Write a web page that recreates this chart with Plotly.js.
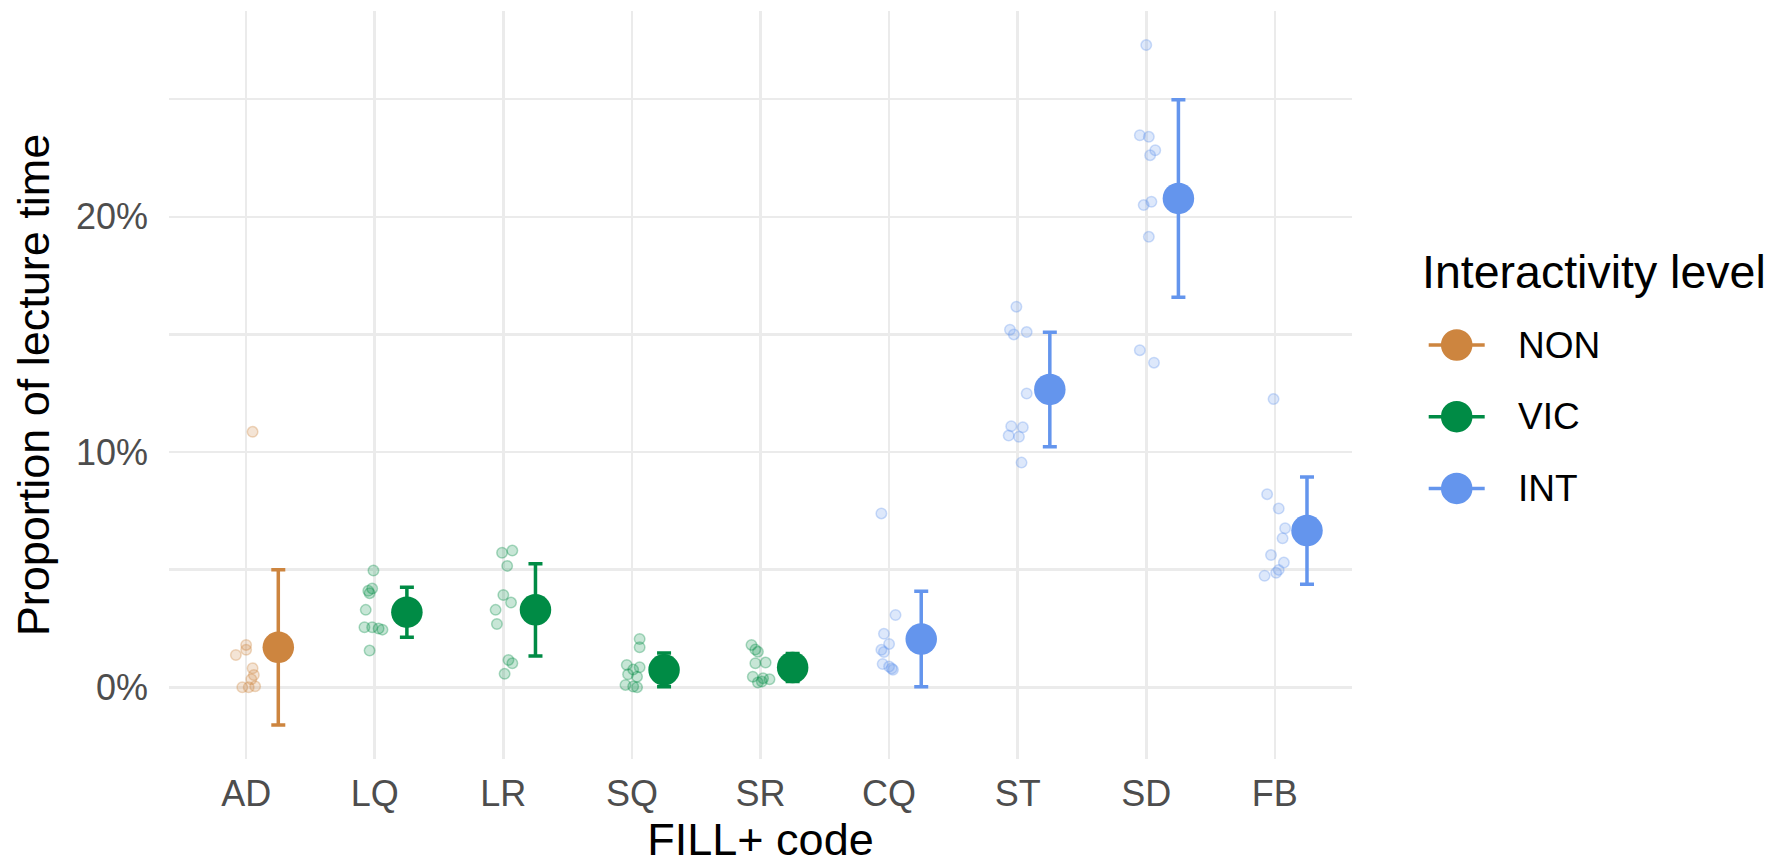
<!DOCTYPE html>
<html>
<head>
<meta charset="utf-8">
<script src="https://cdn.plot.ly/plotly-3.0.1.min.js"></script>
<style>
  html, body { margin: 0; padding: 0; background: #ffffff; }
  #chart { width: 1771px; height: 866px; }
</style>
</head>
<body>
<div id="chart"></div>
<script>
// ---------------- data ----------------
const categories = ['AD', 'LQ', 'LR', 'SQ', 'SR', 'CQ', 'ST', 'SD', 'FB'];
const categoryLevel = ['NON', 'VIC', 'VIC', 'VIC', 'VIC', 'INT', 'INT', 'INT', 'INT'];
const levels = ['NON', 'VIC', 'INT'];

// individual lecture values (% of lecture time) and their horizontal jitter (category units)
const valuesAD = [10.86, 1.80, 1.59, 1.37, 0.81, 0.52, 0.34, 0.00, 0.00, 0.04];
const jitterAD = [0.05, 0.00, 0.00, -0.08, 0.05, 0.06, 0.04, -0.03, 0.02, 0.07];
const valuesLQ = [4.96, 4.20, 4.10, 4.00, 3.29, 2.55, 2.55, 2.50, 2.45, 1.56];
const jitterLQ = [-0.01, -0.02, -0.05, -0.04, -0.07, -0.08, -0.02, 0.03, 0.06, -0.04];
const valuesLR = [5.72, 5.81, 5.16, 3.92, 3.60, 3.29, 2.69, 1.16, 1.02, 0.57];
const jitterLR = [-0.01, 0.07, 0.03, 0.00, 0.06, -0.06, -0.05, 0.04, 0.07, 0.01];
const valuesSQ = [2.05, 1.70, 0.95, 0.85, 0.75, 0.55, 0.45, 0.10, 0.03, 0.00];
const jitterSQ = [0.06, 0.06, -0.04, 0.06, 0.01, -0.03, 0.04, -0.05, 0.01, 0.04];
const valuesSR = [1.80, 1.60, 1.51, 1.05, 1.02, 0.45, 0.38, 0.34, 0.24, 0.20];
const jitterSR = [-0.07, -0.04, -0.02, 0.04, -0.04, -0.06, 0.02, 0.07, 0.01, -0.02];
const valuesCQ = [7.39, 3.07, 2.27, 1.84, 1.59, 1.50, 0.99, 0.88, 0.80, 0.74];
const jitterCQ = [-0.06, 0.05, -0.04, 0.00, -0.06, -0.04, -0.05, 0.00, 0.02, 0.03];
const valuesST = [16.18, 15.20, 15.00, 15.10, 12.49, 11.10, 11.05, 10.70, 10.65, 9.55];
const jitterST = [-0.01, -0.06, -0.03, 0.07, 0.07, -0.05, 0.04, -0.07, 0.01, 0.03];
const valuesSD = [27.30, 23.47, 23.40, 22.83, 22.62, 20.50, 20.64, 19.15, 14.33, 13.80];
const jitterSD = [0.00, -0.05, 0.02, 0.07, 0.03, -0.02, 0.04, 0.02, -0.05, 0.06];
const valuesFB = [12.25, 8.21, 7.60, 6.76, 6.33, 5.62, 5.30, 4.99, 4.87, 4.74];
const jitterFB = [-0.01, -0.06, 0.03, 0.08, 0.06, -0.03, 0.07, 0.03, 0.01, -0.08];

// summary: mean and standard deviation per category
const meanValues = [1.70, 3.19, 3.29, 0.74, 0.84, 2.05, 12.66, 20.78, 6.66];
const sdValues   = [3.30, 1.06, 1.96, 0.72, 0.60, 2.03, 2.43, 4.20, 2.28];

// ---------------- styling ----------------
const levelColor = { NON: [205, 133, 63], VIC: [0, 139, 69], INT: [100, 149, 237] };
const rgba = (c, a) => 'rgba(' + c[0] + ',' + c[1] + ',' + c[2] + ',' + a + ')';
const FONT = 'Liberation Sans, Arial, Helvetica, sans-serif';
const GRID = '#EBEBEB';
const SUMMARY_DODGE = 0.25;

const pointValues = [valuesAD, valuesLQ, valuesLR, valuesSQ, valuesSR, valuesCQ, valuesST, valuesSD, valuesFB];
const pointJitter = [jitterAD, jitterLQ, jitterLR, jitterSQ, jitterSR, jitterCQ, jitterST, jitterSD, jitterFB];

const traces = [];
levels.forEach(function (lev) {
  const px = [], py = [];
  categories.forEach(function (cat, i) {
    if (categoryLevel[i] !== lev) return;
    pointValues[i].forEach(function (v, k) {
      px.push(i + pointJitter[i][k]);
      py.push(v);
    });
  });
  traces.push({
    type: 'scatter', mode: 'markers', x: px, y: py, showlegend: false, hoverinfo: 'y',
    marker: { size: 10.5, color: rgba(levelColor[lev], 0.22), line: { width: 1.5, color: rgba(levelColor[lev], 0.32) } }
  });
});
levels.forEach(function (lev) {
  const sx = [], sy = [], se = [];
  categories.forEach(function (cat, i) {
    if (categoryLevel[i] !== lev) return;
    sx.push(i + SUMMARY_DODGE);
    sy.push(meanValues[i]);
    se.push(sdValues[i]);
  });
  traces.push({
    type: 'scatter', mode: 'markers', x: sx, y: sy, name: lev, showlegend: false,
    marker: { size: 31.5, color: rgba(levelColor[lev], 1), line: { width: 0 } },
    error_y: { type: 'data', array: se, visible: true, color: rgba(levelColor[lev], 1), thickness: 3.5, width: 7 }
  });
});

// ---------------- legend (drawn in paper space) ----------------
const W = 1771, H = 866;
const M = { l: 169, r: 419, t: 11, b: 107 };
const pw = W - M.l - M.r, ph = H - M.t - M.b;
const paperX = function (px) { return (px - M.l) / pw; };
const paperY = function (py) { return (H - M.b - py) / ph; };

const shapes = [];
const annotations = [];
annotations.push({
  xref: 'paper', yref: 'paper', x: paperX(1420), y: paperY(272), xanchor: 'left', yanchor: 'middle',
  text: 'Interactivity level', showarrow: false, font: { family: FONT, size: 46.5, color: '#000000' }
});
levels.forEach(function (lev, j) {
  const cy = paperY(345 + j * 71.7);
  const cx = paperX(1456.7);
  shapes.push({
    type: 'line', xref: 'paper', yref: 'paper', xsizemode: 'pixel', ysizemode: 'pixel',
    xanchor: cx, yanchor: cy, x0: -28, x1: 28, y0: 0, y1: 0,
    line: { color: rgba(levelColor[lev], 1), width: 3.5 }
  });
  shapes.push({
    type: 'circle', xref: 'paper', yref: 'paper', xsizemode: 'pixel', ysizemode: 'pixel',
    xanchor: cx, yanchor: cy, x0: -15.75, x1: 15.75, y0: -15.75, y1: 15.75,
    fillcolor: rgba(levelColor[lev], 1), line: { width: 0 }
  });
  annotations.push({
    xref: 'paper', yref: 'paper', x: paperX(1516), y: cy, xanchor: 'left', yanchor: 'middle',
    text: lev, showarrow: false, font: { family: FONT, size: 37, color: '#000000' }
  });
});

const layout = {
  width: W, height: H,
  margin: M,
  paper_bgcolor: '#ffffff', plot_bgcolor: '#ffffff',
  font: { family: FONT, color: '#000000' },
  showlegend: false,
  xaxis: {
    range: [-0.6, categories.length - 0.4],
    tickmode: 'array', tickvals: categories.map(function (c, i) { return i; }), ticktext: categories,
    showgrid: true, gridcolor: GRID, gridwidth: 2.5, zeroline: false, showline: false, ticks: '',
    tickfont: { family: FONT, size: 36, color: '#4D4D4D' }, ticklabelstandoff: 10,
    title: { text: 'FILL+ code', font: { family: FONT, size: 45, color: '#000000' }, standoff: 6 }
  },
  yaxis: {
    range: [-3.05, 28.75], tick0: 0, dtick: 10, ticksuffix: '%',
    showgrid: true, gridcolor: GRID, gridwidth: 2.5, zeroline: false, showline: false, ticks: '',
    minor: { tick0: 0, dtick: 5, showgrid: true, gridcolor: GRID, gridwidth: 2.5, ticks: '' },
    tickfont: { family: FONT, size: 36, color: '#4D4D4D' }, ticklabelstandoff: 20,
    title: { text: 'Proportion of lecture time', font: { family: FONT, size: 45, color: '#000000' }, standoff: 12 }
  },
  shapes: shapes,
  annotations: annotations
};

Plotly.newPlot('chart', traces, layout, { displayModeBar: false, staticPlot: true });
</script>
</body>
</html>
